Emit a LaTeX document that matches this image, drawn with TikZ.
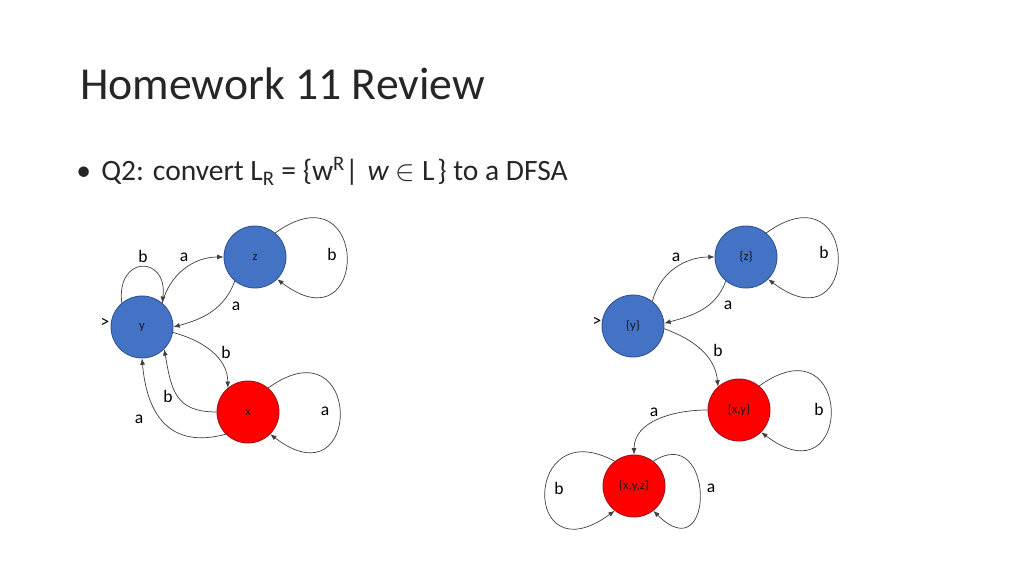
\documentclass[tikz,border=0pt]{standalone}
\usepackage{fontspec}
\setmainfont{Carlito}
\usetikzlibrary{arrows.meta}
\definecolor{stateblue}{HTML}{4472C4}
\definecolor{blueedge}{HTML}{2F528F}
\definecolor{statered}{HTML}{FF0000}
\definecolor{rededge}{HTML}{A0101A}
\definecolor{titlegray}{HTML}{262626}

\begin{document}
\begin{tikzpicture}[x=0.025cm, y=0.025cm, >={Latex[length=4.5pt,width=3.5pt]}]
\useasboundingbox (0,0) rectangle (1024,-576);
\tikzstyle{every node} = [inner sep=0pt]
\tikzstyle{blue state} = [circle, minimum size=1.55cm, fill=stateblue, draw=blueedge, line width=0.6pt, font=\fontsize{9}{10}\selectfont, text=black!90]
\tikzstyle{red state} = [blue state, fill=statered, draw=rededge]
\tikzstyle{trans} = [->, draw=black!75, line width=0.5pt]
\tikzstyle{lbl} = [font=\fontsize{12.5}{14}\selectfont]

\node[anchor=base west, font=\fontsize{32.5}{38}\selectfont, text=titlegray] (title) at (80,-100) {Homework 11 Review};
\node[anchor=base west, font=\fontsize{21}{26}\selectfont, text=titlegray] (task) at (76,-181)
  {•\hspace{0.35em}Q2: convert L\textsubscript{R} = \{w\textsuperscript{R}|\hspace{0.3em}\textit{w} $\in$ L\hspace{0.1em}\} to a DFSA};

% NFSA states
\node[blue state] (z) at (255,-257) {z};
\node[blue state] (y) at (142,-327) {y};
\node[red state] (x) at (248,-412) {x};

% DFSA states
\node[blue state] (sz) at (746,-257) {\{z\}};
\node[blue state] (sy) at (633,-326) {\{y\}};
\node[red state] (sxy) at (739,-410) {\{x,y\}};
\node[red state] (sxyz) at (634,-486) {\{x,y,z\}};

% transitions
\foreach \from/\a/\to/\b/\l in {y.50/75/z.180/180/1, z.-130/-110/y.0/15/1, y.-10/-15/x.130/90/1,
  x.180/180/y.-45/-80/1.3, x.-135/195/y.-90/-85/1.3,
  sy.52/75/sz.180/180/1, sz.-130/-110/sy.5/15/1, sy.-5/-20/sxy.132/95/1, sxy.180/180/sxyz.90/90/1}
\draw[trans] (\from) to[out=\a, in=\b, looseness=\l] (\to);

\foreach \n in {z, x, sz, sxy}
\draw[trans] (\n.50) .. controls +(95,68) and +(93,-71) .. (\n.-45);
\draw[trans] (y.130) .. controls +(-6,48) and +(6,48) .. (y.50);
\draw[trans] (sxyz.52) .. controls +(62,40) and +(62,-62) .. (sxyz.-52);
\draw[trans] (sxyz.128) .. controls +(-92,50) and +(-93,-68) .. (sxyz.-128);

% labels
\node[lbl] (l1) at (143,-256) {b};
\node[lbl] (l2) at (184,-257) {a};
\node[lbl] (l3) at (332,-254) {b};
\node[lbl] (l4) at (236,-306) {a};
\node[lbl] (l5) at (105,-323) {>};
\node[lbl] (l6) at (226,-352) {b};
\node[lbl] (l7) at (168,-396) {b};
\node[lbl] (l8) at (325,-411) {a};
\node[lbl] (l9) at (139,-419) {a};
\node[lbl] (m1) at (676,-257) {a};
\node[lbl] (m2) at (824,-252) {b};
\node[lbl] (m3) at (728,-305) {a};
\node[lbl] (m4) at (597,-322) {>};
\node[lbl] (m5) at (718,-350) {b};
\node[lbl] (m6) at (654,-412) {a};
\node[lbl] (m7) at (819,-409) {b};
\node[lbl] (m8) at (559,-488) {b};
\node[lbl] (m9) at (711,-488) {a};
\end{tikzpicture}
\end{document}
